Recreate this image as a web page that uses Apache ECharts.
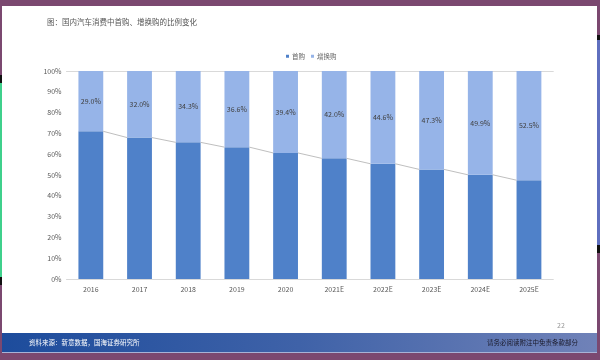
<!DOCTYPE html>
<html>
<head>
<meta charset="utf-8">
<script src="https://cdn.jsdelivr.net/npm/echarts@6/dist/echarts.min.js"></script>
<style>html,body{margin:0;padding:0;}#c{width:600px;height:360px;}</style>
</head>
<body>
<div id="c"></div>
<script>
var categories = ['2016','2017','2018','2019','2020','2021E','2022E','2023E','2024E','2025E'];
var firstPurchase = [71.0, 68.0, 65.7, 63.4, 60.6, 58.0, 55.4, 52.7, 50.1, 47.5];
var replacePurchase = [29.0, 32.0, 34.3, 36.6, 39.4, 42.0, 44.6, 47.3, 49.9, 52.5];
var yTicks = [0,10,20,30,40,50,60,70,80,90,100];

var FONT = '"Noto Sans CJK SC", "Noto Sans", sans-serif';
var BAR_RATIO = 0.51;

var connData = [];
for (var i = 0; i < firstPurchase.length - 1; i++) {
  connData.push([i, firstPurchase[i], firstPurchase[i + 1]]);
}

var chart = echarts.init(document.getElementById('c'), null, {renderer: 'canvas'});
chart.setOption({
  backgroundColor: '#7b4870',
  animation: false,
  textStyle: {fontFamily: FONT},
  graphic: [
    {type: 'rect', z: -10, shape: {x: 2, y: 6, width: 595, height: 327}, style: {fill: '#ffffff'}},
    {type: 'rect', z: -10, shape: {x: 0, y: 75, width: 2, height: 210}, style: {fill: '#111111'}},
    {type: 'rect', z: -9, shape: {x: 0, y: 83, width: 2, height: 194}, style: {fill: '#3fd08c'}},
    {type: 'rect', z: -10, shape: {x: 597, y: 35, width: 3, height: 218}, style: {fill: '#111111'}},
    {type: 'rect', z: -9, shape: {x: 597, y: 40, width: 3, height: 205}, style: {fill: '#5f6fbf'}},
    {type: 'rect', z: -10, shape: {x: 2, y: 333, width: 595, height: 20},
      style: {fill: new echarts.graphic.LinearGradient(0, 0, 1, 0, [
        {offset: 0, color: '#1d4c9c'}, {offset: 0.5, color: '#3f62a8'}, {offset: 1, color: '#7082b8'}])}},
    {type: 'rect', z: -9, shape: {x: 2, y: 352, width: 595, height: 1}, style: {fill: '#a8b2d6'}},
    {type: 'text', x: 47, y: 22, style: {text: '图：国内汽车消费中首购、增换购的比例变化', fontSize: 7.5, fill: '#555555', fontFamily: FONT, textVerticalAlign: 'middle'}},
    {type: 'text', x: 29, y: 343, style: {text: '资料来源：新意数据，国海证券研究所', fontSize: 6.5, fill: '#ffffff', fontFamily: FONT, textVerticalAlign: 'middle'}},
    {type: 'text', x: 578, y: 343, style: {text: '请务必阅读附注中免责条款部分', fontSize: 6.5, fill: '#1a1a2a', fontFamily: FONT, textAlign: 'right', textVerticalAlign: 'middle'}},
    {type: 'text', x: 557, y: 325, style: {text: '22', fontSize: 7, fill: '#999999', fontFamily: FONT, textVerticalAlign: 'middle'}}
  ],
  legend: {
    left: 281, top: 48,
    itemWidth: 3, itemHeight: 3, itemGap: 6,
    icon: 'rect',
    textStyle: {fontSize: 6.5, color: '#666666', padding: [0, 0, 0, -2]},
    data: ['首购', '增换购']
  },
  grid: {left: 66.5, right: 46.7, top: 71, bottom: 81, containLabel: false},
  xAxis: [{
    type: 'category', data: categories,
    axisLine: {show: true, lineStyle: {color: '#d9d9d9', width: 1}},
    axisTick: {show: false},
    axisLabel: {fontSize: 7, color: '#595959', margin: 7}
  }, {
    type: 'category', data: categories, position: 'top',
    axisLine: {show: true, lineStyle: {color: '#d9d9d9', width: 1}},
    axisTick: {show: false}, axisLabel: {show: false}
  }],
  yAxis: {
    type: 'value', min: 0, max: 100, interval: 10,
    axisLine: {show: false}, axisTick: {show: false}, splitLine: {show: false},
    axisLabel: {fontSize: 7, color: '#595959', margin: 5, formatter: '{value}%'}
  },
  series: [{
    name: '首购', type: 'bar', stack: 'a', data: firstPurchase,
    barWidth: (BAR_RATIO * 100) + '%',
    itemStyle: {color: '#4f81c9'}
  }, {
    name: '增换购', type: 'bar', stack: 'a', data: replacePurchase,
    barWidth: (BAR_RATIO * 100) + '%',
    itemStyle: {color: '#96b4e8'},
    label: {show: true, position: 'inside', fontSize: 7, color: '#404040',
      formatter: function (p) { return p.value.toFixed(1) + '%'; }}
  }, {
    type: 'custom', z: 5, silent: true,
    data: connData,
    encode: {x: 0, y: 1},
    renderItem: function (params, api) {
      var idx = api.value(0);
      var p1 = api.coord([idx, api.value(1)]);
      var p2 = api.coord([idx + 1, api.value(2)]);
      var half = api.size([1, 0])[0] * BAR_RATIO / 2;
      return {
        type: 'line',
        shape: {x1: p1[0] + half, y1: p1[1], x2: p2[0] - half, y2: p2[1]},
        style: {stroke: '#bfbfbf', lineWidth: 1}
      };
    }
  }]
});
</script>
</body>
</html>
